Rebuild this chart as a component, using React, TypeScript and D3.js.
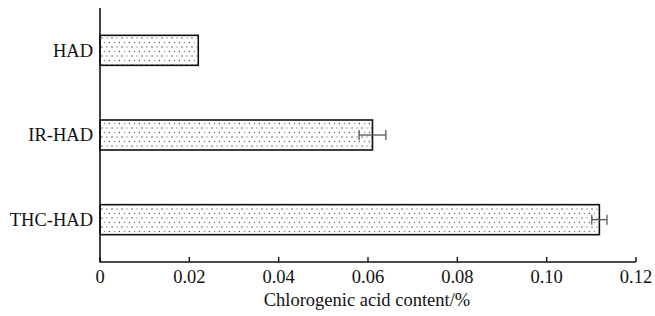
import React from "react";
import * as d3 from "d3";

const categories = ["HAD", "IR-HAD", "THC-HAD"];
const values = [0.022, 0.061, 0.1118];
const errors = [0, 0.003, 0.0017];
const xTicks = [0, 0.02, 0.04, 0.06, 0.08, 0.1, 0.12];
const xTickLabels = ["0", "0.02", "0.04", "0.06", "0.08", "0.10", "0.12"];
const xTitle = "Chlorogenic acid content/%";

export default function App() {
  const W = 655, H = 316;
  const left = 100, right = 636, top = 8, bottom = 262;
  const x = d3.scaleLinear().domain([0, 0.12]).range([left, right]);
  const y = d3.scalePoint<string>().domain(categories).range([top, bottom]).padding(0.5);
  const barH = 30;
  const ts: React.CSSProperties = { fontFamily: "Liberation Serif", fontSize: 18.5 };
  return (
    <svg width={W} height={H} style={{ position: "absolute", left: 0, top: 0, background: "#fff" }}>
      <defs>
        <pattern id="dots" width="10" height="9" patternUnits="userSpaceOnUse" x={left} y="0">
          <rect width="10" height="9" fill="#fff" />
          <circle cx="2" cy="2" r="0.8" fill="#555" />
          <circle cx="7" cy="2" r="0.7" fill="#888" />
          <circle cx="4.5" cy="6.5" r="0.7" fill="#888" />
          <circle cx="9.5" cy="6.5" r="0.8" fill="#555" />
        </pattern>
      </defs>
      {categories.map((c, i) => {
        const cy = y(c)!;
        const v = values[i];
        const e = errors[i];
        return (
          <g key={c}>
            <rect x={x(0)} y={cy - barH / 2} width={x(v) - x(0)} height={barH}
              fill="url(#dots)" stroke="#111" strokeWidth={1.6} />
            {e > 0 && (
              <g stroke="#555" strokeWidth={1.3}>
                <line x1={x(v - e)} x2={x(v + e)} y1={cy} y2={cy} />
                <line x1={x(v - e)} x2={x(v - e)} y1={cy - 5} y2={cy + 5} />
                <line x1={x(v + e)} x2={x(v + e)} y1={cy - 5} y2={cy + 5} />
              </g>
            )}
            <text x={left - 7} y={cy} dy="0.35em" textAnchor="end" style={ts} fill="#111">{c}</text>
          </g>
        );
      })}
      <line x1={left} x2={left} y1={top} y2={bottom + 0.5} stroke="#111" strokeWidth={1.6} />
      <line x1={left} x2={right} y1={bottom} y2={bottom} stroke="#111" strokeWidth={1.6} />
      {xTicks.map((t, i) => (
        <g key={t}>
          <line x1={x(t)} x2={x(t)} y1={bottom} y2={bottom - 5} stroke="#111" strokeWidth={1.4} />
          <text x={x(t)} y={283} textAnchor="middle" style={ts} fill="#111">{xTickLabels[i]}</text>
        </g>
      ))}
      <text x={367} y={306} textAnchor="middle" style={ts} fill="#111">{xTitle}</text>
    </svg>
  );
}
